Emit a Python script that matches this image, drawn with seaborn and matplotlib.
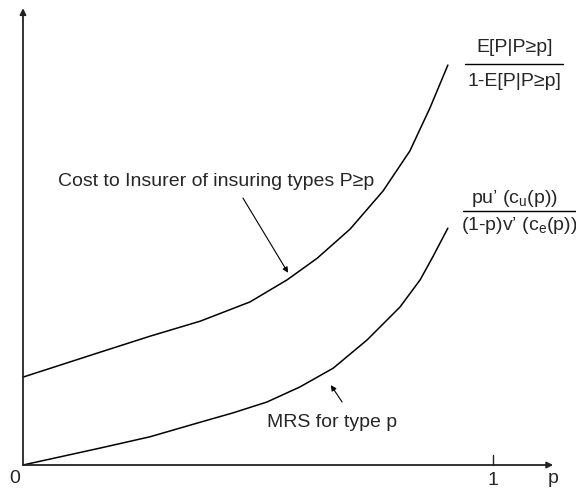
import matplotlib
matplotlib.use("Agg")
from matplotlib import pyplot as plt
import seaborn as sns
import pandas as pd

# Values (x: p in [0, 1], y on the same scale)
upper_p = [0.0, 0.164, 0.270, 0.377, 0.483, 0.562, 0.626, 0.696, 0.766, 0.823, 0.866, 0.904]
upper_y = [0.187, 0.240, 0.274, 0.306, 0.347, 0.394, 0.440, 0.502, 0.583, 0.668, 0.760, 0.851]
lower_p = [0.0, 0.164, 0.270, 0.377, 0.447, 0.519, 0.589, 0.660, 0.732, 0.802, 0.845, 0.872, 0.904]
lower_y = [0.0, 0.036, 0.060, 0.091, 0.111, 0.134, 0.166, 0.206, 0.266, 0.336, 0.394, 0.443, 0.504]
tick_labels = ["0", "1", "p"]

sns.set_style("white")
plt.rcParams["font.family"] = ["Liberation Sans", "DejaVu Sans"]
plt.rcParams["mathtext.fontset"] = "custom"
plt.rcParams["mathtext.rm"] = "Liberation Sans"
plt.rcParams["mathtext.it"] = "Liberation Sans:italic"

df = pd.concat([
    pd.DataFrame({"p": upper_p, "y": upper_y, "curve": "cost"}),
    pd.DataFrame({"p": lower_p, "y": lower_y, "curve": "mrs"}),
])

fig = plt.figure(figsize=(5.76, 4.91), dpi=100)
ax = fig.add_axes([0, 0, 1, 1])

sns.lineplot(data=df, x="p", y="y", units="curve", estimator=None,
             color="black", linewidth=1.1, sort=False, ax=ax)

ax.set_xlim(-0.0489, 1.1766)
ax.set_ylim(-0.0553, 0.9894)
ax.axis("off")

# Axes with arrow heads
axis_col = "#222222"
ax.annotate("", xy=(1.128, 0), xytext=(0, 0),
            arrowprops=dict(arrowstyle="-|>", color=axis_col, lw=1.3,
                            mutation_scale=9, shrinkA=0, shrinkB=0))
ax.annotate("", xy=(0, 0.972), xytext=(0, 0),
            arrowprops=dict(arrowstyle="-|>", color=axis_col, lw=1.3,
                            mutation_scale=9, shrinkA=0, shrinkB=0))
ax.plot([1, 1], [0, 0.021], color=axis_col, lw=1.0)

fs = 14
ax.text(-0.017, -0.028, tick_labels[0], ha="center", va="center", fontsize=fs)
ax.text(1.0, -0.033, tick_labels[1], ha="center", va="center", fontsize=fs)
ax.text(1.128, -0.028, tick_labels[2], ha="center", va="center", fontsize=fs)

# Curve labels
ax.text(0.075, 0.604, "Cost to Insurer of insuring types P≥p",
        ha="left", va="center", fontsize=fs)
ax.annotate("", xy=(0.564, 0.409), xytext=(0.468, 0.568),
            arrowprops=dict(arrowstyle="-|>", color="black", lw=0.8,
                            mutation_scale=8, shrinkA=0, shrinkB=0))
ax.text(0.519, 0.091, "MRS for type p", ha="left", va="center", fontsize=fs)
ax.annotate("", xy=(0.655, 0.170), xytext=(0.679, 0.134),
            arrowprops=dict(arrowstyle="-|>", color="black", lw=0.8,
                            mutation_scale=8, shrinkA=0, shrinkB=0))

# Fractions
ax.text(1.047, 0.889, "E[P|P≥p]", ha="center", va="center", fontsize=fs)
ax.plot([0.940, 1.149], [0.853, 0.853], color="black", lw=1.0)
ax.text(1.045, 0.815, "1-E[P|P≥p]", ha="center", va="center", fontsize=fs)

ax.text(1.045, 0.568, r"pu’ (c$_\mathregular{u}$(p))", ha="center", va="center", fontsize=fs)
ax.plot([0.936, 1.18], [0.540, 0.540], color="black", lw=1.0)
ax.text(1.055, 0.509, r"(1-p)v’ (c$_\mathregular{e}$(p))", ha="center", va="center", fontsize=fs)

fig.savefig("out.png", dpi=100)
